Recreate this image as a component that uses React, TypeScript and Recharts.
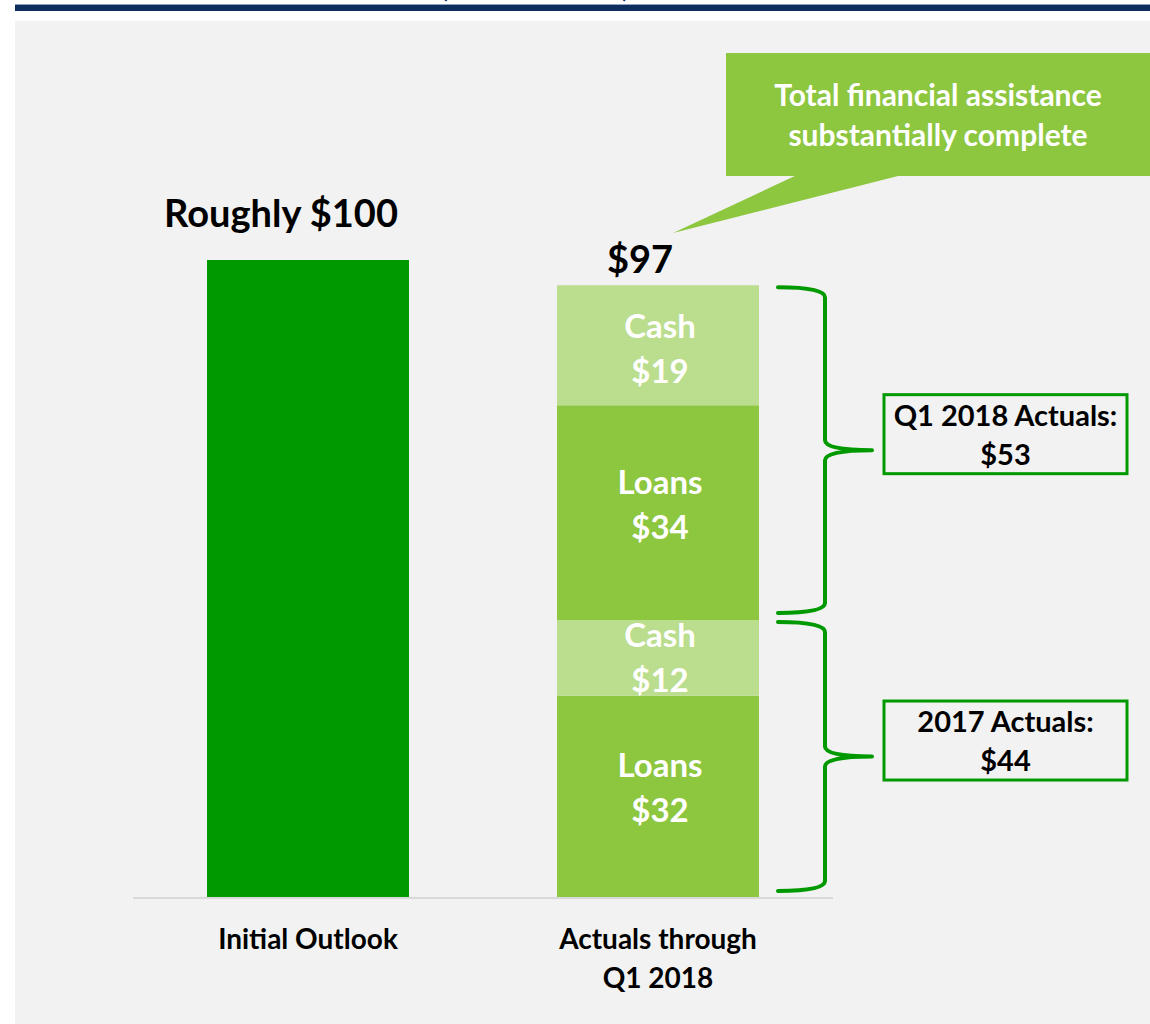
import React from "react";
import { BarChart, Bar, XAxis, YAxis, LabelList, ReferenceArea } from "recharts";

// ---- data ----
const categories = ["Initial Outlook", "Actuals through Q1 2018"];
const tickLines = [["Initial Outlook"], ["Actuals through", "Q1 2018"]];
const outlook = [101, 0];
const loans2017 = [0, 32];
const cash2017 = [0, 12];
const loans2018 = [0, 34];
const cash2018 = [0, 19];
const topLabels = ["Roughly $100", "$97"];
const segmentNames = ["Loans", "Cash", "Loans", "Cash"];
const bracketTitles = ["2017 Actuals:", "Q1 2018 Actuals:"];
const calloutLines = ["Total financial assistance", "substantially complete"];

const data = categories.map((name, i) => ({
  name,
  outlook: outlook[i],
  loans2017: loans2017[i],
  cash2017: cash2017[i],
  loans2018: loans2018[i],
  cash2018: cash2018[i],
}));

const total2017 = loans2017[1] + cash2017[1];
const total2018 = loans2018[1] + cash2018[1];
const brackets = [
  { title: bracketTitles[0], low: 0, high: total2017, value: total2017 },
  { title: bracketTitles[1], low: total2017, high: total2017 + total2018, value: total2018 },
];

// ---- style ----
const FONT = "Lato, 'Open Sans', sans-serif";
const DARK_GREEN = "#009900";
const LOAN_GREEN = "#8DC63F";
const CASH_GREEN = "#BBDD8E";
const NAVY = "#0D2D5E";

const rectOf = (p: any) => {
  const v = p.viewBox && p.viewBox.width !== undefined ? p.viewBox : p;
  return { x: Number(v.x), y: Number(v.y), width: Number(v.width), height: Number(v.height) };
};

const segmentContent = (name: string, dy: number) => (props: any) => {
  const { value } = props;
  if (!value) return null;
  const r = rectOf(props);
  const cx = r.x + r.width / 2 + 2;
  const cy = r.y + r.height / 2;
  return (
    <text x={cx} textAnchor="middle" fill="#FFFFFF" fontFamily={FONT} fontWeight={700} fontSize={33}>
      <tspan x={cx} y={cy + dy}>{name}</tspan>
      <tspan x={cx} y={cy + dy + 45}>{`$${value}`}</tspan>
    </text>
  );
};

const topLabelOffsets = [
  { dx: -27, dy: -33 },
  { dx: -18, dy: -12 },
];

const topContent = (props: any) => {
  const { value, index } = props;
  if (!value) return null;
  const r = rectOf(props);
  const off = topLabelOffsets[index];
  return (
    <text
      x={r.x + r.width / 2 + off.dx}
      y={r.y + off.dy}
      textAnchor="middle"
      fill="#000000"
      fontFamily={FONT}
      fontWeight={700}
      fontSize={38}
    >
      {topLabels[index]}
    </text>
  );
};

const Tick = (props: any) => {
  const { x, y, index } = props;
  const lines = tickLines[index] || [String(props.payload?.value)];
  return (
    <text x={x} textAnchor="middle" fill="#000000" fontFamily={FONT} fontWeight={700} fontSize={28}>
      {lines.map((l, i) => (
        <tspan key={i} x={x} y={y + 51 + i * 39}>
          {l}
        </tspan>
      ))}
    </text>
  );
};

const makeBracket = (b: { title: string; value: number }) => (props: any) => {
  const r = rectOf(props);
  const y1 = r.y + 2;
  const y2 = r.y + r.height - 7;
  const ym = (y1 + y2) / 2;
  const x0 = 778;
  const xv = 825;
  const xt = 872;
  const rr = 10;
  const d = `M ${x0} ${y1} Q ${xv} ${y1} ${xv} ${y1 + rr} L ${xv} ${ym - rr} Q ${xv} ${ym} ${xt} ${ym} Q ${xv} ${ym} ${xv} ${ym + rr} L ${xv} ${y2 - rr} Q ${xv} ${y2} ${x0} ${y2}`;
  const bx = 884;
  const bw = 243;
  const bh = 79;
  const by = ym - 16 - bh / 2;
  const tcx = bx + bw / 2;
  return (
    <g>
      <path d={d} fill="none" stroke={DARK_GREEN} strokeWidth={4} strokeLinejoin="round" strokeLinecap="round" />
      <rect x={bx} y={by} width={bw} height={bh} fill="#F2F2F2" stroke={DARK_GREEN} strokeWidth={3} />
      <text textAnchor="middle" fill="#000000" fontFamily={FONT} fontWeight={700} fontSize={29}>
        <tspan x={tcx} y={by + 31}>{b.title}</tspan>
        <tspan x={tcx} y={by + 70}>{`$${b.value}`}</tspan>
      </text>
    </g>
  );
};

export default function App() {
  return (
    <div style={{ position: "absolute", left: 0, top: 0, width: 1150, height: 1024, background: "#FFFFFF", overflow: "hidden" }}>
      <div style={{ position: "absolute", left: 15, top: 21, width: 1135, height: 1003, background: "#F2F2F2" }} />
      <svg width={1150} height={30} style={{ position: "absolute", left: 0, top: 0 }}>
        <text x={440} y={-3} fill={NAVY} fontFamily={FONT} fontSize={30}>(</text>
        <text x={622} y={-3} fill={NAVY} fontFamily={FONT} fontSize={30}>)</text>
        <rect x={15} y={4} width={1135} height={1} fill="#8EA3C2" />
        <rect x={15} y={5} width={1135} height={6} fill={NAVY} />
      </svg>
      <div style={{ position: "absolute", left: 0, top: 0 }}>
        <BarChart
          width={1150}
          height={1024}
          data={data}
          margin={{ top: 140, right: 317, bottom: 96, left: 133 }}
          barSize={202}
        >
          <YAxis hide domain={[0, 120]} type="number" allowDataOverflow />
          <XAxis
            dataKey="name"
            height={30}
            axisLine={{ stroke: "#D9D9D9", strokeWidth: 2 }}
            tickLine={false}
            tickSize={0}
            tickMargin={0}
            tick={<Tick />}
            interval={0}
          />
          <Bar dataKey="outlook" stackId="a" fill={DARK_GREEN} isAnimationActive={false}>
            <LabelList dataKey="outlook" content={topContent} />
          </Bar>
          <Bar dataKey="loans2017" stackId="a" fill={LOAN_GREEN} isAnimationActive={false}>
            <LabelList dataKey="loans2017" content={segmentContent(segmentNames[0], -20)} />
          </Bar>
          <Bar dataKey="cash2017" stackId="a" fill={CASH_GREEN} isAnimationActive={false}>
            <LabelList dataKey="cash2017" content={segmentContent(segmentNames[1], -11)} />
          </Bar>
          <Bar dataKey="loans2018" stackId="a" fill={LOAN_GREEN} isAnimationActive={false}>
            <LabelList dataKey="loans2018" content={segmentContent(segmentNames[2], -19)} />
          </Bar>
          <Bar dataKey="cash2018" stackId="a" fill={CASH_GREEN} isAnimationActive={false}>
            <LabelList dataKey="cash2018" content={segmentContent(segmentNames[3], -7)} />
            <LabelList dataKey="cash2018" content={(p: any) => (p.value ? topContent({ ...p, value: topLabels[1], index: 1 }) : null)} />
          </Bar>
          {brackets.map((b, i) => (
            <ReferenceArea key={i} y1={b.low} y2={b.high} ifOverflow="visible" shape={makeBracket(b)} />
          ))}
        </BarChart>
      </div>
      <svg width={1150} height={1024} style={{ position: "absolute", left: 0, top: 0, pointerEvents: "none" }}>
        <rect x={726} y={53} width={424} height={123} fill={LOAN_GREEN} />
        <polygon points="797,175 902,175 673,233" fill={LOAN_GREEN} />
        <text textAnchor="middle" fill="#FFFFFF" fontFamily={FONT} fontWeight={700} fontSize={30}>
          <tspan x={938} y={106}>{calloutLines[0]}</tspan>
          <tspan x={938} y={146}>{calloutLines[1]}</tspan>
        </text>
      </svg>
    </div>
  );
}
